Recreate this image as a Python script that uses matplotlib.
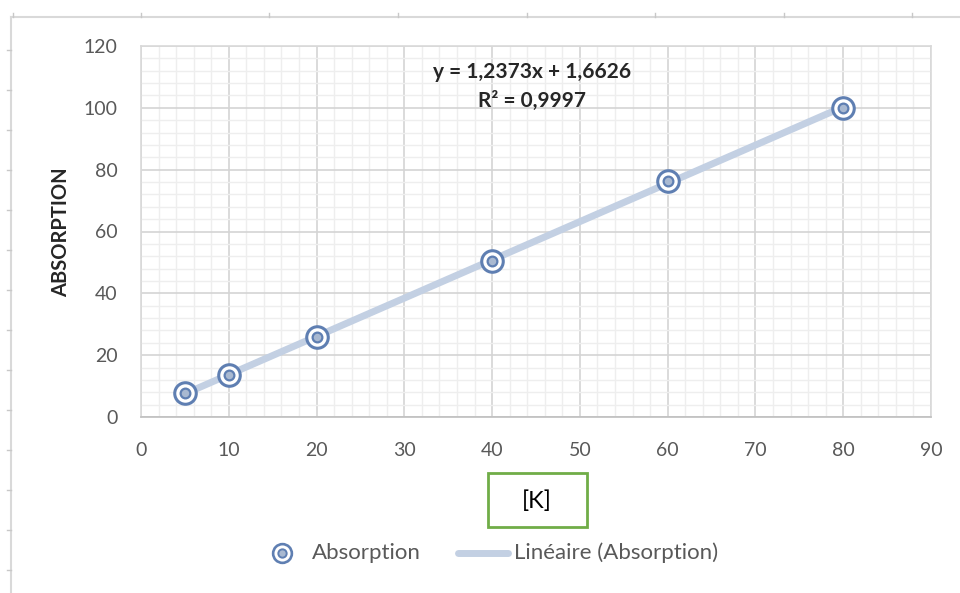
import numpy as np
import matplotlib
matplotlib.use("Agg")
import matplotlib.pyplot as plt
from matplotlib.lines import Line2D
from matplotlib.patches import Rectangle

# Data
conc = [5, 10, 20, 40, 60, 80]
absorption = [7.8, 13.6, 25.9, 50.3, 76.4, 100.0]
x_ticks = [0, 10, 20, 30, 40, 50, 60, 70, 80, 90]
y_ticks = [0, 20, 40, 60, 80, 100, 120]
eq_text = "y = 1,2373x + 1,6626"
r2_text = "R² = 0,9997"
series_label = "Absorption"
trend_label = "Linéaire (Absorption)"
x_label = "[K]"
y_label = "ABSORPTION"

plt.rcParams['font.family'] = ['Lato', 'DejaVu Sans']

W, H = 960, 593
fig = plt.figure(figsize=(W / 100, H / 100), dpi=100)
ax = fig.add_axes([141 / W, 1 - 417 / H, (931 - 141) / W, (417 - 46) / H])

def fx(px):
    return px / W

def fy(py):
    return 1 - py / H

# spreadsheet frame lines
frame_c = '#D9D9D9'
fig.add_artist(Line2D([fx(11), 1], [fy(17), fy(17)], transform=fig.transFigure, color=frame_c, lw=1.5))
fig.add_artist(Line2D([fx(11), fx(11)], [0, fy(17)], transform=fig.transFigure, color=frame_c, lw=1.5))
for px in [13, 141, 269, 398, 527, 655, 784, 912]:
    fig.add_artist(Line2D([fx(px), fx(px)], [fy(13), fy(17)], transform=fig.transFigure, color='#C8C8C8', lw=1))
for py in range(50, 593, 40):
    fig.add_artist(Line2D([fx(7), fx(11)], [fy(py), fy(py)], transform=fig.transFigure, color='#C8C8C8', lw=1))

# grid
ax.set_xlim(0, 90)
ax.set_ylim(0, 120)
ax.set_xticks(x_ticks)
ax.set_yticks(y_ticks)
ax.set_xticks(np.arange(0, 91, 2), minor=True)
ax.set_yticks(np.arange(0, 121, 4), minor=True)
ax.grid(which='minor', color='#EEEEEE', lw=1.0)
ax.grid(which='major', color='#D4D4D4', lw=1.2)
ax.set_axisbelow(True)
for s in ax.spines.values():
    s.set_color('#D9D9D9')
    s.set_linewidth(1.2)
ax.spines['bottom'].set_color('#BFBFBF')
ax.tick_params(which='both', length=0)
ax.tick_params(axis='x', pad=18, labelsize=14, labelcolor='#595959')
ax.tick_params(axis='y', pad=17, labelsize=14, labelcolor='#595959')

# trendline
tr_color = '#C3D0E3'
slope, intercept = np.polyfit(conc, absorption, 1)
xt = np.array([min(conc), max(conc)])
ax.plot(xt, slope * xt + intercept, color=tr_color, lw=5, solid_capstyle='round', zorder=2)

# markers
mk_edge = '#5F7FB2'
ax.plot(conc, absorption, ls='none', marker='o', ms=15.5, mfc='white', mec=mk_edge, mew=2.2, zorder=3)
ax.plot(conc, absorption, ls='none', marker='o', ms=7, mfc='#A9B9D1', mec=mk_edge, mew=1.6, zorder=4)

# equation
fig.text(fx(532), fy(72), eq_text, ha='center', va='center', fontsize=15, fontweight='bold', color='#262626')
fig.text(fx(532), fy(101), r2_text, ha='center', va='center', fontsize=15, fontweight='bold', color='#262626')

# y label
fig.text(fx(61), fy(232), y_label, rotation=90, ha='center', va='center', fontsize=14.5, fontweight='bold', color='#262626')

# x label box
fig.add_artist(Rectangle((fx(488), fy(527)), 99 / W, 54 / H, transform=fig.transFigure,
                         fill=False, ec='#70AD47', lw=2))
fig.text(fx(537), fy(501), x_label, ha='center', va='center', fontsize=17, color='#000000')

# legend (drawn manually)
ly = fy(553)
fig.add_artist(Line2D([fx(282)], [ly], transform=fig.transFigure, ls='none', marker='o', ms=13.5,
                      mfc='white', mec=mk_edge, mew=1.9))
fig.add_artist(Line2D([fx(282)], [ly], transform=fig.transFigure, ls='none', marker='o', ms=6,
                      mfc='#A9B9D1', mec=mk_edge, mew=1.4))
fig.text(fx(312), ly, series_label, ha='left', va='center', fontsize=16, color='#595959')
fig.add_artist(Line2D([fx(458), fx(508)], [ly, ly], transform=fig.transFigure, color=tr_color, lw=5,
                      solid_capstyle='round'))
fig.text(fx(514), ly, trend_label, ha='left', va='center', fontsize=16, color='#595959')

fig.savefig('out.png', dpi=100, facecolor='white')
